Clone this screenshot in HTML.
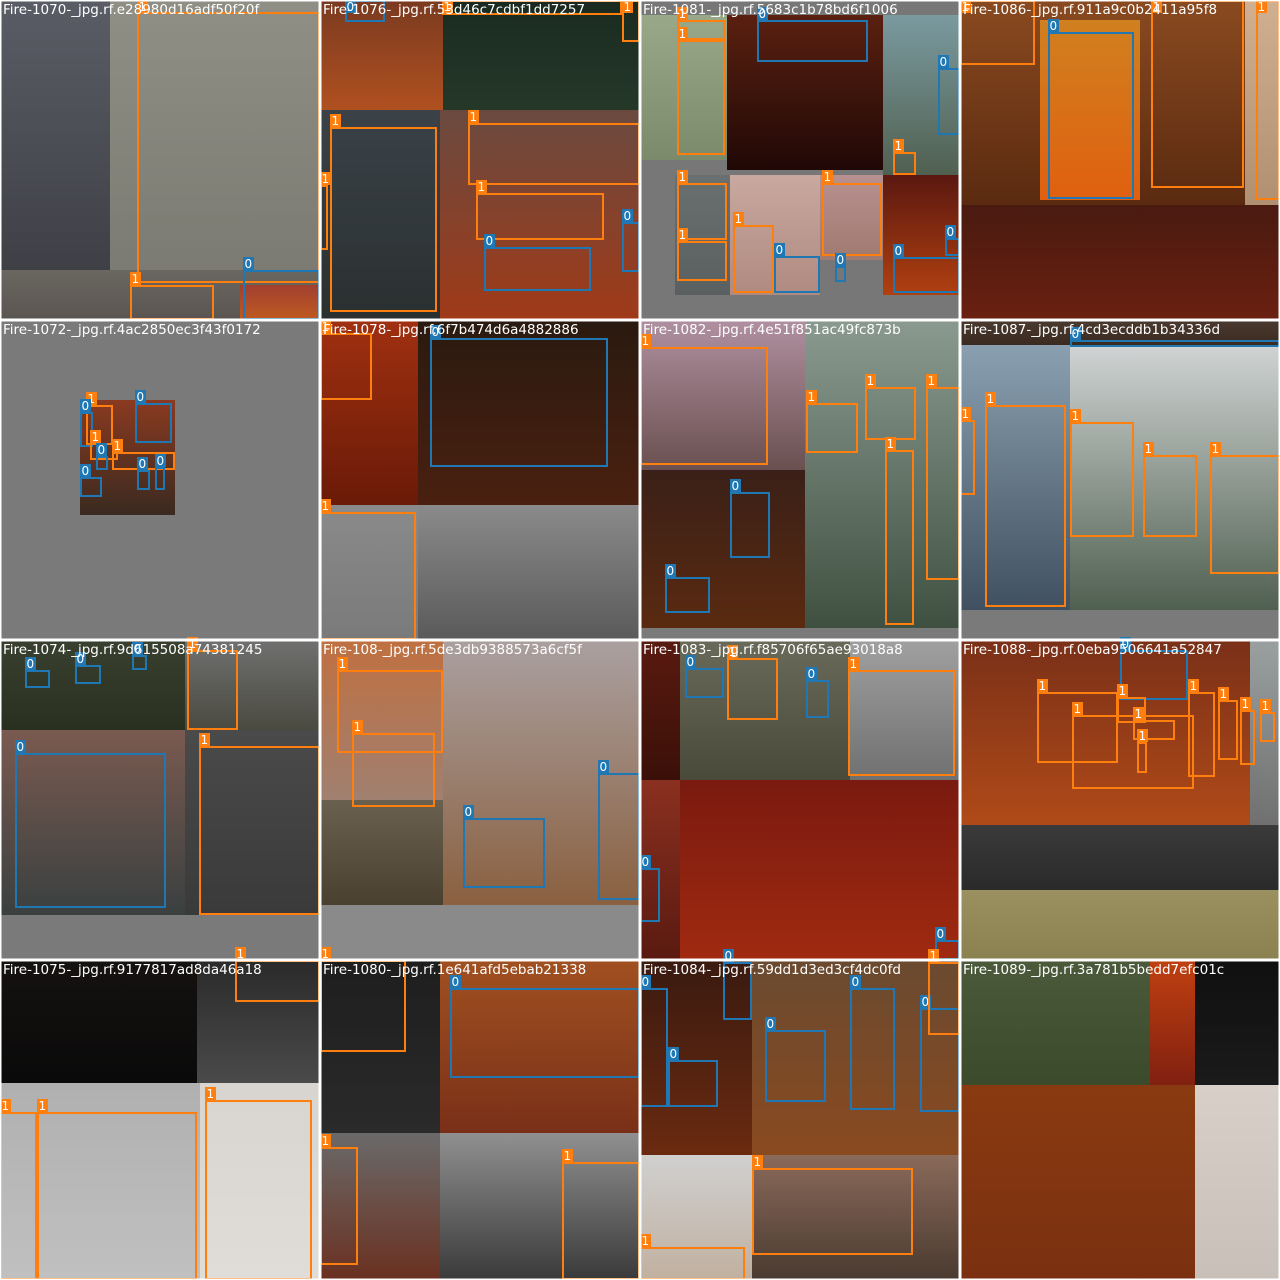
<!DOCTYPE html>
<html><head><meta charset="utf-8">
<style>
html,body{margin:0;padding:0;background:#fff;}
#wrap{position:relative;width:1280px;height:1280px;overflow:hidden;}
svg{display:block;}
</style></head>
<body>
<div id="wrap">
<svg id="mosaic" width="1280" height="1280" viewBox="0 0 1280 1280"></svg>
</div>
<script>
const titles = ["Fire-1070-_jpg.rf.e28980d16adf50f20f","Fire-1076-_jpg.rf.53d46c7cdbf1dd7257","Fire-1081-_jpg.rf.5683c1b78bd6f1006","Fire-1086-_jpg.rf.911a9c0b2411a95f8",
"Fire-1072-_jpg.rf.4ac2850ec3f43f0172","Fire-1078-_jpg.rf.6f7b474d6a4882886","Fire-1082-_jpg.rf.4e51f851ac49fc873b","Fire-1087-_jpg.rf.4cd3ecddb1b34336d",
"Fire-1074-_jpg.rf.9d615508a74381245","Fire-108-_jpg.rf.5de3db9388573a6cf5f","Fire-1083-_jpg.rf.f85706f65ae93018a8","Fire-1088-_jpg.rf.0eba9506641a52847",
"Fire-1075-_jpg.rf.9177817ad8da46a18","Fire-1080-_jpg.rf.1e641afd5ebab21338","Fire-1084-_jpg.rf.59dd1d3ed3cf4dc0fd","Fire-1089-_jpg.rf.3a781b5bedd7efc01c"];
const regions = [
[0,0,110,320,"#5a5d66","#3a3a40"],[110,0,320,285,"#8f8f85","#7a7a72"],[0,270,320,320,"#6a6660","#5a5550"],[240,285,320,320,"#a04030","#c05a20"],
[320,0,443,110,"#7a3a20","#b05020"],[443,0,640,110,"#1a2a20","#253828"],[320,110,440,320,"#3a4248","#2a3030"],[440,110,640,320,"#6a4a40","#a03a18"],
[640,0,960,320,"#777777","#777777"],[640,15,730,160,"#9aa88a","#7a8a6a"],[727,15,883,170,"#5a2010","#200806"],[883,15,960,175,"#7a9aa0","#506050"],[675,175,730,295,"#6a7070","#5a6060"],[730,175,820,295,"#c8a8a0","#b08a80"],[820,175,883,260,"#b89090","#a07a70"],[883,175,960,295,"#5a1810","#b04010"],
[960,0,1245,205,"#8a4a20","#5a2a10"],[1040,20,1140,200,"#d08020","#e06010"],[1245,0,1280,205,"#d0b090","#b09070"],[960,205,1280,320,"#4a1a10","#6a2010"],
[0,320,320,640,"#7a7a7a","#7a7a7a"],[80,400,175,515,"#8a3a20","#3a2a20"],
[320,320,418,505,"#a03010","#6a1a08"],[418,320,640,505,"#2a1a10","#4a2010"],[320,505,418,640,"#8a8a8a","#7a7a7a"],[418,505,640,640,"#8a8a8a","#5a5a5a"],
[640,320,960,640,"#7a7a7a","#7a7a7a"],[640,320,805,470,"#b090a0","#6a5050"],[640,470,805,628,"#3a2018","#5a2a10"],[805,320,960,628,"#8a9a90","#405040"],
[960,320,1280,345,"#4a3a30","#3a2a20"],[960,345,1070,610,"#8aa0b0","#405060"],[1070,345,1280,610,"#d0d4d4","#506050"],[960,610,1280,640,"#7a7a7a","#7a7a7a"],
[0,640,185,730,"#3a4030","#2a3020"],[185,640,320,730,"#707070","#4a4a40"],[0,730,185,915,"#7a5a50","#3a4040"],[185,730,320,915,"#4a4a4a","#3a3a3a"],[0,915,320,960,"#7a7a7a","#7a7a7a"],
[320,640,443,800,"#c07040","#a08070"],[320,800,443,905,"#6a6050","#4a4030"],[443,640,640,905,"#aaa0a0","#8a6040"],[320,905,640,960,"#8a8a8a","#8a8a8a"],
[640,640,680,780,"#5a1a10","#3a1008"],[680,640,850,780,"#6a6a5a","#4a4a3a"],[850,640,960,780,"#a0a0a0","#707070"],[640,780,680,960,"#8a3020","#5a1a10"],[680,780,960,960,"#7a1a10","#a02a10"],
[960,640,1250,825,"#7a3018","#b04a18"],[1250,640,1280,825,"#9aa0a0","#707070"],[960,825,1280,890,"#3a3a3a","#2a2a2a"],[960,890,1280,960,"#9a9060","#8a8050"],
[0,960,197,1083,"#151210","#0a0a0a"],[197,960,320,1083,"#2a2a2a","#4a4a4a"],[0,1083,200,1280,"#b0b0b0","#c0c0c0"],[200,1083,320,1280,"#d8d4d0","#e0dcd8"],
[320,960,440,1133,"#1e1e1e","#2a2a2a"],[440,960,640,1133,"#a05020","#7a3018"],[320,1133,440,1280,"#6a6a6a","#6a3020"],[440,1133,640,1280,"#909090","#3a3a3a"],
[640,960,752,1155,"#3a1a10","#6a2a10"],[752,960,960,1155,"#6a4a30","#8a4a20"],[640,1155,752,1280,"#d0d0d0","#c0b0a0"],[752,1155,960,1280,"#8a6a5a","#4a3a30"],
[960,960,1195,1085,"#4a5a3a","#3a4a2a"],[1150,960,1195,1085,"#c04010","#802010"],[1195,960,1280,1085,"#101010","#1a1a1a"],[960,1085,1195,1280,"#8a3a10","#7a3010"],[1195,1085,1280,1280,"#d8d0c8","#c8c0b8"]
];
const boxes = [
[137,12,320,283,1],[130,285,214,320,1],[243,270,320,320,0],
[345,0,385,22,0],[442,0,622,15,1],[622,0,640,42,1],[330,127,437,312,1],[320,185,328,250,1],[468,123,640,185,1],[476,193,604,240,1],[484,247,591,291,0],[622,222,640,272,0],
[677,40,725,155,1],[677,20,725,40,1],[757,20,868,62,0],[938,68,960,135,0],[893,152,916,175,1],[677,183,727,240,1],[677,241,727,281,1],[733,225,774,293,1],[822,183,882,256,1],[774,256,820,293,0],[835,266,846,282,0],[893,257,960,293,0],[945,238,960,256,0],
[960,0,1035,65,1],[1048,32,1134,199,0],[1151,0,1244,188,1],[1256,0,1280,200,1],
[86,405,113,445,1],[135,403,172,443,0],[80,412,93,447,0],[90,443,118,460,1],[112,452,175,470,1],[80,477,102,497,0],[96,456,108,470,0],[137,470,150,490,0],[155,467,165,490,0],
[320,333,372,400,1],[430,338,608,467,0],[320,512,416,640,1],
[640,347,768,465,1],[730,492,770,558,0],[665,577,710,613,0],[806,403,858,453,1],[865,387,916,440,1],[926,387,960,580,1],[885,450,914,625,1],
[1070,340,1280,347,0],[960,420,975,495,1],[985,405,1066,607,1],[1070,422,1134,537,1],[1143,455,1197,537,1],[1210,455,1280,574,1],
[25,670,50,688,0],[75,665,101,684,0],[132,655,147,670,0],[187,650,238,730,1],[15,753,166,908,0],[199,746,320,915,1],
[337,670,443,753,1],[352,733,435,807,1],[463,818,545,888,0],[598,773,640,900,0],
[685,668,724,698,0],[727,658,778,720,1],[806,680,829,718,0],[848,670,955,776,1],[640,868,660,922,0],[935,940,960,960,0],
[1120,650,1188,700,0],[1037,692,1118,763,1],[1072,715,1194,789,1],[1117,697,1146,723,1],[1133,720,1175,740,1],[1137,742,1147,773,1],[1188,692,1215,777,1],[1218,700,1238,760,1],[1240,710,1255,765,1],[1260,712,1275,742,1],
[235,960,320,1002,1],[0,1112,37,1280,1],[37,1112,197,1280,1],[205,1100,312,1280,1],
[320,960,406,1052,1],[450,988,640,1078,0],[320,1147,358,1265,1],[562,1162,640,1280,1],
[640,988,668,1107,0],[668,1060,718,1107,0],[723,962,752,1020,0],[765,1030,826,1102,0],[850,988,895,1110,0],[920,1008,960,1112,0],[928,962,960,1035,1],[752,1168,913,1255,1],[640,1247,745,1280,1]
];
const classColors = ["#1f77b4","#ff7f0e"];
const NS="http://www.w3.org/2000/svg";
const svg=document.getElementById('mosaic');
const defs=document.createElementNS(NS,'defs');svg.appendChild(defs);
function mk(tag,attrs,parent){const e=document.createElementNS(NS,tag);for(const k in attrs)e.setAttribute(k,attrs[k]);(parent||svg).appendChild(e);return e;}
const gBg=mk('g',{});


regions.forEach((r,i)=>{
  const gr=mk('linearGradient',{id:'g'+i,x1:0,y1:0,x2:0,y2:1},defs);
  mk('stop',{offset:0,'stop-color':r[4]},gr);mk('stop',{offset:1,'stop-color':r[5]},gr);
  const el=mk('rect',{x:r[0],y:r[1],width:r[2]-r[0],height:r[3]-r[1],fill:'url(#g'+i+')'},gBg);
  
  
});
const gB=mk('g',{});


boxes.forEach(b=>{
  const c=classColors[b[4]];
  const r=mk('rect',{x:b[0]+1,y:b[1]+1,width:Math.max(1,b[2]-b[0]-2),height:Math.max(1,b[3]-b[1]-2),fill:'none',stroke:c,'stroke-width':2},gB);
  
  
  const ly=Math.max(0,b[1]-13);
  const lb=mk('rect',{x:b[0],y:ly,width:11,height:13,fill:c},gB);
  
  
  const t=mk('text',{x:b[0]+1.5,y:ly+11,fill:'#fff','font-size':12,'font-family':'DejaVu Sans, Liberation Sans, sans-serif'},gB);
  t.textContent=String(b[4]);
  
  
});
const gG=mk('g',{});


for(let k=0;k<=4;k++){
  mk('line',{x1:k*320,y1:0,x2:k*320,y2:1280,stroke:'#fff','stroke-width':3},gG);
  mk('line',{x1:0,y1:k*320,x2:1280,y2:k*320,stroke:'#fff','stroke-width':3},gG);
}
const gT=mk('g',{});


titles.forEach((s,i)=>{
  const x=(i%4)*320+3,y=Math.floor(i/4)*320+14;
  const t=mk('text',{x:x,y:y,fill:'#ffffff','font-size':13.5,'font-family':'DejaVu Sans, Liberation Sans, sans-serif','clip-path':'url(#c'+i+')'},gT);
  const cp=mk('clipPath',{id:'c'+i},defs);mk('rect',{x:(i%4)*320,y:Math.floor(i/4)*320,width:320,height:20},cp);
  t.textContent=s;
  
  
});
</script>
</body></html>
